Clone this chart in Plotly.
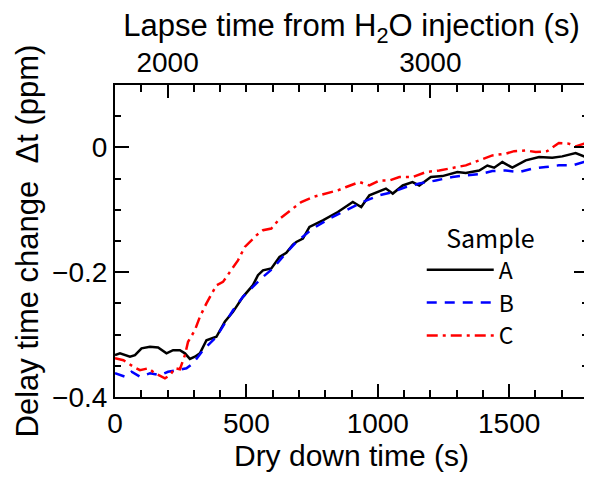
import plotly.graph_objects as go

# Dry down time (s) and delay time change (ppm) for each sample
a_t = [0, 19, 57, 76, 101, 133, 164, 196, 221, 247, 266, 285, 304, 323, 348, 367, 386, 418, 449, 487, 525, 544, 563, 595,
       626, 652, 677, 690, 715, 740, 791, 848, 905, 937, 968, 1031, 1057, 1095, 1132, 1158, 1202, 1246, 1284, 1303, 1335,
       1386, 1417, 1443, 1474, 1512, 1563, 1614, 1664, 1702, 1753, 1791, 1800]
a_v = [-0.333, -0.330, -0.3355, -0.333, -0.322, -0.3195, -0.3205, -0.330, -0.325, -0.325, -0.330, -0.339, -0.3355, -0.330,
       -0.309, -0.306, -0.3035, -0.2795, -0.2635, -0.2395, -0.2208, -0.2048, -0.197, -0.194,
       -0.1755, -0.169, -0.156, -0.1515, -0.146, -0.1275, -0.117, -0.1035, -0.0875, -0.0955, -0.0768, -0.066, -0.074,
       -0.061, -0.0555, -0.061, -0.0475, -0.046, -0.042, -0.0395, -0.041,
       -0.037, -0.029, -0.0325, -0.0235, -0.0325, -0.0208, -0.0155, -0.0165, -0.0144, -0.009, -0.0165, -0.017]

b_t = [0, 38, 63, 95, 133, 171, 202, 234, 272, 297, 335, 361, 386, 418, 449, 487, 525, 563, 601, 639, 690, 753, 816,
       880, 943, 1006, 1057, 1107, 1158, 1221, 1284, 1335, 1386, 1436, 1487, 1538, 1588, 1639, 1689, 1740, 1784, 1800]
b_v = [-0.362, -0.3675, -0.3595, -0.3675, -0.362, -0.365, -0.3595, -0.357, -0.354, -0.346, -0.325, -0.314, -0.3035,
       -0.282, -0.261, -0.2395, -0.2235, -0.2075, -0.194, -0.175, -0.1515, -0.130, -0.114,
       -0.1008, -0.0875, -0.0768, -0.0715, -0.0635, -0.058, -0.053, -0.0475, -0.0448, -0.043, -0.038, -0.037, -0.0395,
       -0.034, -0.0315, -0.0288, -0.0288, -0.0235, -0.024]

c_t = [0, 32, 70, 95, 127, 152, 190, 209, 228, 247, 266, 278, 304, 323, 348, 373, 386, 411, 437, 468, 494, 519, 538,
       563, 595, 626, 677, 709, 753, 804, 848, 880, 930, 968, 1006, 1044, 1082, 1133, 1183, 1234, 1297, 1335, 1386,
       1436, 1487, 1519, 1563, 1601, 1645, 1689, 1727, 1753, 1784, 1800]
c_v = [-0.338, -0.341, -0.3515, -0.357, -0.354, -0.362, -0.370, -0.365, -0.354, -0.3555, -0.333, -0.3115, -0.293,
       -0.2715, -0.250, -0.2315, -0.221, -0.2155, -0.1995, -0.181, -0.1595, -0.149, -0.141,
       -0.1328, -0.130, -0.1145, -0.098, -0.0875, -0.0795, -0.074, -0.0688, -0.0635, -0.0555, -0.061, -0.053, -0.053,
       -0.0475, -0.0475, -0.0395, -0.037, -0.0325, -0.0288, -0.0208,
       -0.0128, -0.010, -0.006, -0.0048, -0.0075, -0.006, 0.007, 0.006, 0.0016, 0.006, 0.005]

LAPSE_OFFSET = 1800  # lapse time from H2O injection = dry down time + offset

X_RANGE = [0, 1800]
Y_RANGE = [-0.4, 0.1]

FONT = "Liberation Sans, Arial, sans-serif"
LEG_FONT = "Noto Sans CJK JP, sans-serif"
NB = "\u00a0"

fig = go.Figure()
fig.add_trace(go.Scatter(x=a_t, y=a_v, mode="lines", name="A",
                         line=dict(color="black", width=2.5)))
fig.add_trace(go.Scatter(x=b_t, y=b_v, mode="lines", name="B",
                         line=dict(color="#0000ff", width=2.5, dash="10px,8px")))
fig.add_trace(go.Scatter(x=c_t, y=c_v, mode="lines", name="C",
                         line=dict(color="#ff0000", width=2.5, dash="11px,5px,3px,5px")))
# invisible trace to carry the top (lapse time) axis
fig.add_trace(go.Scatter(x=[t + LAPSE_OFFSET for t in a_t], y=a_v, xaxis="x2", mode="lines",
                         line=dict(width=0), opacity=0, showlegend=False, hoverinfo="skip"))

# the page body has an 8px margin, so the figure is sized to fill the rest of the window
fig.update_layout(
    width=584, height=469,
    margin=dict(l=107, r=4, t=77, b=80),
    paper_bgcolor="white", plot_bgcolor="white",
    font=dict(family=FONT, size=28, color="black"),
    showlegend=True,
    legend=dict(
        title=dict(text=NB * 4 + "Sample", side="top center", font=dict(family=LEG_FONT, size=25)),
        font=dict(family=LEG_FONT, size=23),
        x=0.6485, y=0.581, xanchor="left", yanchor="top",
        bgcolor="rgba(0,0,0,0)", itemwidth=67, tracegroupgap=0,
    ),
    xaxis=dict(
        range=X_RANGE, showgrid=False, zeroline=False, automargin=False,
        showline=True, linecolor="black", linewidth=2, mirror=False,
        ticks="inside", ticklen=13, tickwidth=1.5, tickcolor="black",
        dtick=500, tick0=0,
        minor=dict(dtick=100, ticks="inside", ticklen=7, tickwidth=1.5, tickcolor="black", showgrid=False),
        tickfont=dict(size=28),
        title=dict(text="Dry down time (s)", font=dict(size=30), standoff=4),
    ),
    xaxis2=dict(
        range=[X_RANGE[0] + LAPSE_OFFSET, X_RANGE[1] + LAPSE_OFFSET], overlaying="x", side="top",
        anchor="y", showgrid=False, zeroline=False, automargin=False,
        showline=True, linecolor="black", linewidth=2,
        ticks="inside", ticklen=13, tickwidth=1.5, tickcolor="black",
        dtick=1000, tick0=0,
        minor=dict(dtick=100, ticks="inside", ticklen=7, tickwidth=1.5, tickcolor="black", showgrid=False),
        tickfont=dict(size=28),
        title=dict(text="Lapse time from H<sub>2</sub>O injection (s)", font=dict(size=31), standoff=4),
    ),
    yaxis=dict(
        range=Y_RANGE, showgrid=False, zeroline=False, automargin=False,
        showline=True, linecolor="black", linewidth=2, mirror="ticks",
        ticks="inside", ticklen=14, tickwidth=1.5, tickcolor="black",
        dtick=0.2, tick0=0,
        minor=dict(dtick=0.05, ticks="inside", ticklen=6, tickwidth=1.5, tickcolor="black", showgrid=False),
        tickfont=dict(size=28),
        title=dict(text="Delay time change" + NB + NB + "\u0394t (ppm)",
                   font=dict(size=31), standoff=4),
    ),
)

fig.write_html("out.html")
